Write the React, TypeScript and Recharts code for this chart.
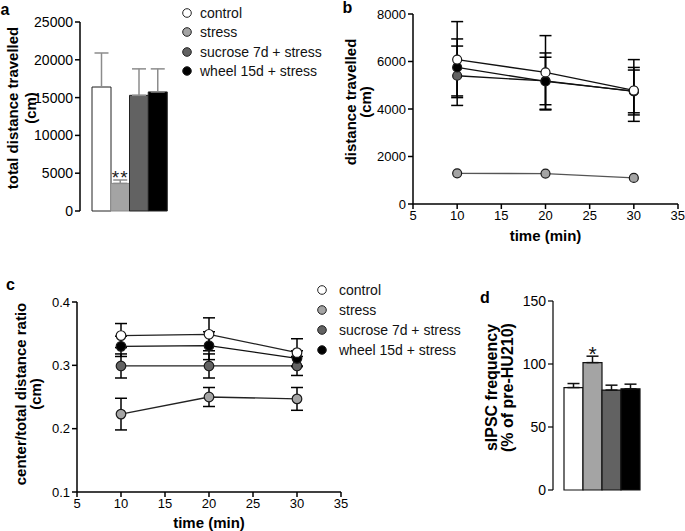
import React from 'react';
import {
  BarChart,
  Bar,
  LineChart,
  Line,
  XAxis,
  YAxis,
  ErrorBar,
  Cell,
  LabelList,
  Label,
  Legend,
} from 'recharts';

// ---------- data ----------
const groups = ['control', 'stress', 'sucrose 7d + stress', 'wheel 15d + stress'];
const seriesKeys = ['control', 'stress', 'sucrose', 'wheel'];

// panel a: total distance travelled (cm)
const totalDistance = [16400, 3650, 15300, 15750];
const totalDistanceErr = [4500, 450, 3500, 3050];
const totalDistanceSig = ['', '**', '', ''];

// panel b: distance travelled per time bin (cm)
const timePoints = [10, 20, 30];
const distControl = [6080, 5540, 4780];
const distControlErr = [1600, 1550, 1300];
const distStress = [1290, 1280, 1100];
const distStressErr = [0, 0, 0];
const distSucrose = [5400, 5180, 4740];
const distSucroseErr = [1250, 1000, 900];
const distWheel = [5750, 5160, 4750];
const distWheelErr = [1200, 1200, 1000];

// panel c: center / total distance ratio
const ratioControl = [0.347, 0.349, 0.32];
const ratioControlErr = [0.019, 0.026, 0.022];
const ratioStress = [0.223, 0.25, 0.247];
const ratioStressErr = [0.025, 0.015, 0.018];
const ratioSucrose = [0.299, 0.299, 0.299];
const ratioSucroseErr = [0.019, 0.019, 0.015];
const ratioWheel = [0.33, 0.331, 0.311];
const ratioWheelErr = [0.016, 0.022, 0.012];

// panel d: sIPSC frequency (% of pre-HU210)
const sipscFreq = [81.3, 101.1, 79.3, 80.3];
const sipscErr = [3.2, 5.1, 3.9, 3.7];
const sipscSig = ['', '*', '', ''];

// ticks
const ticksA = [0, 5000, 10000, 15000, 20000, 25000];
const ticksB = [0, 2000, 4000, 6000, 8000];
const ticksC = [0.1, 0.2, 0.3, 0.4];
const ticksD = [0, 50, 100, 150];
const timeTicks = [5, 10, 15, 20, 25, 30, 35];

// ---------- styles ----------
const FONT = '"Liberation Sans", Arial, Helvetica, sans-serif';
const fills = ['#ffffff', '#a4a4a4', '#626262', '#000000'];
const drawOrder = [1, 2, 3, 0];

const tickStyle = { fill: '#000', fontSize: 13, fontFamily: FONT };
const axisLine = { stroke: '#000', strokeWidth: 1.5 };

// ---------- derived tables ----------
const barDataA = groups.map((g, i) => ({
  group: g,
  value: totalDistance[i],
  err: [0, totalDistanceErr[i]],
  sig: totalDistanceSig[i],
}));

const barDataD = groups.map((g, i) => ({
  group: g,
  value: sipscFreq[i],
  err: [0, sipscErr[i]],
  sig: sipscSig[i],
}));

const bVals = [distControl, distStress, distSucrose, distWheel];
const bErrs = [distControlErr, distStressErr, distSucroseErr, distWheelErr];
const cVals = [ratioControl, ratioStress, ratioSucrose, ratioWheel];
const cErrs = [ratioControlErr, ratioStressErr, ratioSucroseErr, ratioWheelErr];

const buildLineData = (vals: number[][], errs: number[][]) =>
  timePoints.map((t, i) => {
    const row: Record<string, number> = { time: t };
    seriesKeys.forEach((k, s) => {
      row[k] = vals[s][i];
      row[k + 'Err'] = errs[s][i];
    });
    return row;
  });

const lineDataB = buildLineData(bVals, bErrs);
const lineDataC = buildLineData(cVals, cErrs);

// ---------- helpers ----------
const yTitle =
  (
    letter: string,
    letterPos: [number, number],
    lines: string[],
    dxs: number[],
    dy: number,
    fontSize = 15
  ) =>
  (props: any) => {
    const vb = props.viewBox || { x: 0, y: 0, width: 0, height: 0 };
    const cy = vb.y + vb.height / 2 + dy;
    return (
      <g>
        <text
          x={vb.x + letterPos[0]}
          y={vb.y + letterPos[1]}
          fontSize={16}
          fontWeight="bold"
          textAnchor="middle"
          fill="#000"
          fontFamily={FONT}
        >
          {letter}
        </text>
        {lines.map((l, i) => {
          const x = vb.x + dxs[i];
          return (
            <text
              key={i}
              x={x}
              y={cy}
              transform={`rotate(-90 ${x} ${cy})`}
              textAnchor="middle"
              dominantBaseline="central"
              fontSize={fontSize}
              fontWeight="bold"
              fill="#000"
              fontFamily={FONT}
            >
              {l}
            </text>
          );
        })}
      </g>
    );
  };

const xTitle = (text: string, dy: number) => (props: any) => {
  const vb = props.viewBox || { x: 0, y: 0, width: 0, height: 0 };
  return (
    <text
      x={vb.x + vb.width / 2}
      y={vb.y + dy}
      textAnchor="middle"
      dominantBaseline="central"
      fontSize={15}
      fontWeight="bold"
      fill="#000"
      fontFamily={FONT}
    >
      {text}
    </text>
  );
};

const LegendList = ({ rowH, gap }: { rowH: number; gap: number }) => (
  <div style={{ fontFamily: FONT, fontSize: 14, color: '#111', lineHeight: 1 }}>
    {groups.map((g, i) => (
      <div key={g} style={{ display: 'flex', alignItems: 'center', height: rowH, whiteSpace: 'nowrap' }}>
        <svg width={12} height={12} style={{ flex: 'none' }}>
          <circle cx={6} cy={6} r={4.3} fill={fills[i]} stroke="#222" strokeWidth={1} />
        </svg>
        <span style={{ marginLeft: gap }}>{g}</span>
      </div>
    ))}
  </div>
);

const renderLines = (errs: number[][], errWidth: number, r: number, lineColors: string[]) =>
  drawOrder.map((s) => (
    <Line
      key={seriesKeys[s]}
      dataKey={seriesKeys[s]}
      name={groups[s]}
      stroke={lineColors[s]}
      strokeWidth={1.3}
      dot={{ r, fill: fills[s], stroke: '#1a1a1a', strokeWidth: 1.2 }}
      activeDot={false}
      isAnimationActive={false}
    >
      {errs[s].some((e) => e > 0) ? (
        <ErrorBar dataKey={seriesKeys[s] + 'Err'} width={errWidth} stroke="#000" strokeWidth={1.5} direction="y" />
      ) : null}
    </Line>
  ));

export default function App() {
  return (
    <div
      style={{
        position: 'absolute',
        left: 0,
        top: 0,
        width: 685,
        height: 531,
        background: '#fff',
        fontFamily: FONT,
        overflow: 'hidden',
      }}
    >
      {/* panel b */}
      <div style={{ position: 'absolute', left: 330, top: 0 }}>
        <LineChart width={355} height={245} data={lineDataB} margin={{ top: 14, right: 7, bottom: 5, left: 0 }}>
          <XAxis
            type="number"
            dataKey="time"
            domain={[5, 35]}
            ticks={timeTicks}
            height={36}
            tick={tickStyle}
            axisLine={axisLine}
            tickLine={axisLine}
            tickSize={5}
          >
            <Label content={xTitle('time (min)', 31)} />
          </XAxis>
          <YAxis
            width={83}
            domain={[0, 8000]}
            ticks={ticksB}
            tick={tickStyle}
            axisLine={axisLine}
            tickLine={axisLine}
            tickSize={5}
          >
            <Label content={yTitle('b', [17.5, -1], ['distance travelled', '(cm)'], [20, 35], -7)} />
          </YAxis>
          {renderLines(bErrs, 6, 4.5, ['#111', '#555', '#111', '#111'])}
        </LineChart>
      </div>

      {/* panel a */}
      <div style={{ position: 'absolute', left: 0, top: 0 }}>
        <BarChart
          width={380}
          height={230}
          data={barDataA}
          margin={{ top: 22, right: 183, bottom: 19, left: 0 }}
          barCategoryGap={0}
        >
          <XAxis
            dataKey="group"
            height={0}
            tick={false}
            tickLine={false}
            axisLine={axisLine}
            padding={{ left: 12, right: 30 }}
          />
          <YAxis
            width={80}
            domain={[0, 25000]}
            ticks={ticksA}
            tick={{ ...tickStyle, fontSize: 14 }}
            axisLine={axisLine}
            tickLine={axisLine}
            tickSize={5}
          >
            <Label content={yTitle('a', [5, -7], ['total distance travelled', '(cm)'], [12, 30], -8.5)} />
          </YAxis>
          <Legend
            layout="vertical"
            align="center"
            verticalAlign="middle"
            wrapperStyle={{ left: 181, top: 3.5, width: 190 }}
            content={() => <LegendList rowH={19.3} gap={7} />}
          />
          <Bar dataKey="value" isAnimationActive={false}>
            {barDataA.map((d, i) => (
              <Cell key={d.group} fill={fills[i]} stroke={i === 1 ? '#8a8a8a' : '#222'} strokeWidth={1} />
            ))}
            <ErrorBar dataKey="err" width={7} stroke="#8c8c8c" strokeWidth={1.5} direction="y" />
            <LabelList
              dataKey="sig"
              position="top"
              offset={-1}
              style={{ fontSize: 19, fill: '#222', fontFamily: FONT, letterSpacing: 1 }}
            />
          </Bar>
        </BarChart>
      </div>

      {/* panel c */}
      <div style={{ position: 'absolute', left: 0, top: 270 }}>
        <LineChart width={470} height={261} data={lineDataC} margin={{ top: 32, right: 129, bottom: 0, left: 0 }}>
          <XAxis
            type="number"
            dataKey="time"
            domain={[5, 35]}
            ticks={timeTicks}
            height={39}
            tick={tickStyle}
            axisLine={axisLine}
            tickLine={axisLine}
            tickSize={5}
          >
            <Label content={xTitle('time (min)', 30)} />
          </XAxis>
          <YAxis
            width={77}
            domain={[0.1, 0.4]}
            ticks={ticksC}
            tick={tickStyle}
            axisLine={axisLine}
            tickLine={axisLine}
            tickSize={5}
          >
            <Label
              content={yTitle('c', [10.5, -12], ['center/total distance ratio', '(cm)'], [20, 35], -3)}
            />
          </YAxis>
          <Legend
            layout="vertical"
            align="center"
            verticalAlign="middle"
            wrapperStyle={{ left: 316, top: 10, width: 160 }}
            content={() => <LegendList rowH={20} gap={11} />}
          />
          {renderLines(cErrs, 6, 4.8, ['#222', '#222', '#222', '#111'])}
        </LineChart>
      </div>

      {/* panel d */}
      <div style={{ position: 'absolute', left: 470, top: 270 }}>
        <BarChart
          width={215}
          height={261}
          data={barDataD}
          margin={{ top: 31, right: 31, bottom: 41, left: 0 }}
          barCategoryGap={0}
        >
          <XAxis
            dataKey="group"
            height={0}
            tick={false}
            tickLine={false}
            axisLine={{ stroke: '#000', strokeWidth: 1.2 }}
            padding={{ left: 11, right: 14 }}
          />
          <YAxis
            width={83}
            domain={[0, 150]}
            ticks={ticksD}
            tick={{ ...tickStyle, fontSize: 14 }}
            axisLine={{ stroke: '#000', strokeWidth: 1.2 }}
            tickLine={{ stroke: '#000', strokeWidth: 1.2 }}
            tickSize={5}
          >
            <Label
              content={yTitle('d', [15, 2], ['sIPSC frequency', '(% of pre-HU210)'], [21, 37], -8, 16)}
            />
          </YAxis>
          <Bar dataKey="value" isAnimationActive={false}>
            {barDataD.map((d, i) => (
              <Cell key={d.group} fill={fills[i]} stroke="#111" strokeWidth={1.2} />
            ))}
            <ErrorBar dataKey="err" width={6} stroke="#111" strokeWidth={1.5} direction="y" />
            <LabelList
              dataKey="sig"
              position="top"
              offset={2}
              style={{ fontSize: 21, fill: '#111', fontFamily: FONT }}
            />
          </Bar>
        </BarChart>
      </div>
    </div>
  );
}
